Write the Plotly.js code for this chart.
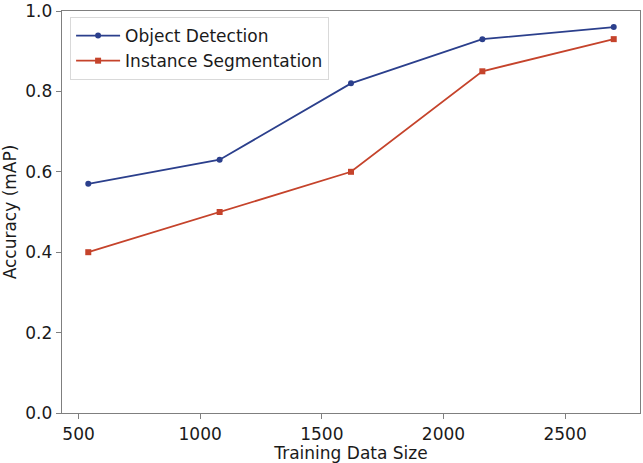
<!DOCTYPE html>
<html>
<head>
<meta charset="utf-8">
<script src="https://cdn.plot.ly/plotly-3.0.1.min.js"></script>
<style>html,body{margin:0;padding:0;background:#fff;}#chart{width:643px;height:463px;}</style>
</head>
<body>
<div id="chart"></div>
<script>
const trainingSizes = [540, 1080, 1620, 2160, 2700];
const objectDetection = [0.57, 0.63, 0.82, 0.93, 0.96];
const instanceSegmentation = [0.40, 0.50, 0.60, 0.85, 0.93];
const seriesNames = ["Object Detection", "Instance Segmentation"];
const xTicks = [500, 1000, 1500, 2000, 2500];
const yTicks = [0.0, 0.2, 0.4, 0.6, 0.8, 1.0];

const font = "DejaVu Sans, sans-serif";
const traces = [
  {x: trainingSizes, y: objectDetection, name: seriesNames[0], mode: "lines+markers",
   line: {color: "#2b3f8c", width: 1.8}, marker: {symbol: "circle", size: 6, color: "#2b3f8c"}},
  {x: trainingSizes, y: instanceSegmentation, name: seriesNames[1], mode: "lines+markers",
   line: {color: "#c5432b", width: 1.8}, marker: {symbol: "square", size: 6, color: "#c5432b"}}
];
const axisCommon = {
  showgrid: false, zeroline: false, showline: true, linecolor: "#7f7f7f", linewidth: 1.3,
  mirror: true, ticks: "outside", ticklen: 5, tickwidth: 1, tickcolor: "#7f7f7f",
  tickfont: {family: font, size: 17, color: "#1a1a1a"}
};
const layout = {
  width: 643, height: 463,
  margin: {l: 62, r: 3, t: 11, b: 50},
  paper_bgcolor: "#fff", plot_bgcolor: "#fff",
  showlegend: true,
  legend: {x: 0.014, y: 0.985, xanchor: "left", yanchor: "top",
    bgcolor: "#fff", bordercolor: "#d9d9d9", borderwidth: 1, itemwidth: 44,
    font: {family: font, size: 17, color: "#1a1a1a"}, tracegroupgap: 0},
  xaxis: Object.assign({}, axisCommon, {range: [432, 2808], tickvals: xTicks,
    title: {text: "Training Data Size", font: {family: font, size: 17, color: "#1a1a1a"}, standoff: 2}}),
  yaxis: Object.assign({}, axisCommon, {range: [0, 1], tickvals: yTicks, tickformat: ".1f",
    title: {text: "Accuracy (mAP)", font: {family: font, size: 17, color: "#1a1a1a"}, standoff: 6}})
};
Plotly.newPlot("chart", traces, layout, {displayModeBar: false, staticPlot: true});
</script>
</body>
</html>
